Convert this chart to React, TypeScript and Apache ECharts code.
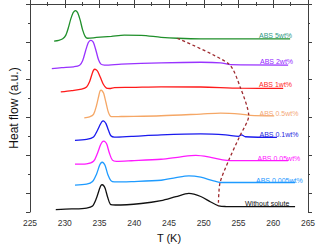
import React, { useEffect, useRef } from "react";
import * as echarts from "echarts";

// Temperature (K) / heat-flow offset (a.u., axis drawn top-down)
const xTicks = { min: 225, max: 265, interval: 5 };

const abs5: [number, number][] = [
  [228.47, 1.96], [229.14, 1.92], [229.71, 1.84], [230.14, 1.66], [230.5, 1.28],
  [230.86, 0.8], [231.2, 0.46], [231.38, 0.38], [231.53, 0.35], [231.7, 0.38],
  [231.88, 0.48], [232.21, 0.84], [232.57, 1.37], [232.93, 1.71], [233.29, 1.81],
  [234.57, 1.77], [236.71, 1.71], [238.57, 1.65], [241.0, 1.66], [243.86, 1.76],
  [246.21, 1.81], [249.57, 1.84], [255.29, 1.84], [262.43, 1.84],
];
const abs2: [number, number][] = [
  [228.14, 3.42], [229.57, 3.37], [231.29, 3.32], [232.14, 3.24], [232.57, 3.0],
  [233.0, 2.47], [233.36, 2.06], [233.58, 1.95], [233.76, 1.92], [233.95, 1.95],
  [234.16, 2.06], [234.5, 2.47], [234.86, 2.95], [235.21, 3.18], [235.71, 3.23],
  [238.14, 3.18], [243.86, 3.11], [249.57, 3.08], [252.43, 3.11], [253.86, 3.21],
  [262.14, 3.23],
];
const abs1: [number, number][] = [
  [229.43, 4.65], [231.0, 4.58], [232.43, 4.5], [233.14, 4.39], [233.57, 4.11],
  [233.93, 3.7], [234.15, 3.5], [234.33, 3.45], [234.52, 3.48], [234.75, 3.57],
  [235.14, 3.89], [235.57, 4.26], [236.0, 4.45], [236.43, 4.47], [237.14, 4.42],
  [239.57, 4.41], [243.86, 4.38], [249.57, 4.39], [255.29, 4.45], [261.43, 4.46],
];
const abs05: [number, number][] = [
  [232.81, 6.02], [233.57, 5.97], [234.14, 5.84], [234.57, 5.37], [234.93, 4.8],
  [235.08, 4.6], [235.24, 4.55], [235.4, 4.6], [235.6, 4.72], [235.93, 5.21],
  [236.29, 5.74], [236.71, 5.96], [238.14, 5.95], [243.86, 5.91], [249.57, 5.82],
  [252.43, 5.77], [255.29, 5.82], [256.71, 5.89], [260.14, 5.92],
];
const abs01: [number, number][] = [
  [231.47, 7.21], [233.14, 7.16], [234.14, 7.03], [234.71, 6.68], [235.14, 6.35],
  [235.35, 6.22], [235.53, 6.18], [235.72, 6.22], [235.95, 6.34], [236.29, 6.68],
  [236.64, 6.97], [237.14, 7.04], [239.57, 7.0], [243.86, 6.92], [249.57, 6.87],
  [253.14, 6.92], [255.0, 7.0], [255.43, 6.92], [256.0, 7.02], [260.53, 7.05],
];
const abs005: [number, number][] = [
  [231.47, 8.47], [233.14, 8.45], [234.14, 8.32], [234.71, 7.89], [235.14, 7.46],
  [235.4, 7.29], [235.61, 7.25], [235.82, 7.29], [236.05, 7.42], [236.43, 7.89],
  [236.86, 8.26], [237.43, 8.32], [239.57, 8.29], [243.86, 8.21], [246.71, 8.08],
  [248.86, 8.01], [251.0, 8.11], [252.71, 8.24], [253.86, 8.28], [262.14, 8.28],
];
const abs0005: [number, number][] = [
  [231.47, 9.58], [233.14, 9.53], [234.0, 9.39], [234.57, 9.0], [235.0, 8.54],
  [235.2, 8.41], [235.39, 8.37], [235.58, 8.41], [235.82, 8.55], [236.21, 9.03],
  [236.64, 9.34], [237.14, 9.41], [239.57, 9.39], [243.86, 9.32], [246.0, 9.18],
  [247.86, 9.09], [249.57, 9.16], [251.29, 9.34], [252.43, 9.44], [263.14, 9.44],
];
const pure: [number, number][] = [
  [228.71, 10.87], [231.0, 10.84], [233.14, 10.79], [234.0, 10.68], [234.57, 10.26],
  [234.98, 9.8], [235.2, 9.6], [235.39, 9.56], [235.58, 9.6], [235.82, 9.76],
  [236.21, 10.26], [236.64, 10.61], [237.29, 10.63], [241.0, 10.55], [243.86, 10.4],
  [246.0, 10.19], [247.86, 10.02], [249.57, 10.18], [251.0, 10.47], [252.14, 10.67],
  [253.14, 10.71], [263.14, 10.72],
];
const meltLine: [number, number][] = [
  [246.21, 1.82], [253.61, 3.17], [255.29, 4.44], [256.47, 5.91],
  [255.14, 7.02], [253.61, 8.25], [252.33, 9.47], [252.1, 10.67],
];

const names = [
  "ABS 5wt%", "ABS 2wt%", "ABS 1wt%", "ABS 0.5wt%",
  "ABS 0.1wt%", "ABS 0.05wt%", "ABS 0.005wt%", "Without solute",
];
const seriesData = [abs5, abs2, abs1, abs05, abs01, abs005, abs0005, pure];
const lineColors = ["#1f8f2a", "#9933ff", "#ff1a1a", "#f5a766", "#1a1aee", "#ff1aff", "#1e9bff", "#111111"];
const labelColors = ["#2f9a86", "#9426ff", "#ff1f1f", "#f4a877", "#1f1fe0", "#ff14ff", "#1e98ff", "#111111"];
const labelPos: [number, number][] = [
  [259, 35], [260, 61.5], [259, 84.5], [259.5, 113.5],
  [259.5, 134.5], [257.5, 158], [256, 180], [245, 203],
];

export default function App() {
  const ref = useRef<HTMLDivElement>(null);
  useEffect(() => {
    if (!ref.current) return;
    const chart = echarts.init(ref.current, undefined, { renderer: "svg" });
    const font = "Liberation Sans, Arial, sans-serif";
    const axisColor = "#404040";
    const xBase = {
      type: "value" as const,
      min: xTicks.min,
      max: xTicks.max,
      interval: xTicks.interval,
      axisLine: { show: true, lineStyle: { color: axisColor, width: 1 } },
      axisTick: { show: true, inside: false, length: 4, lineStyle: { color: axisColor } },
      minorTick: { show: true, splitNumber: 2, length: 2, lineStyle: { color: axisColor } },
      splitLine: { show: false },
      minorSplitLine: { show: false },
    };
    const yBase = {
      type: "value" as const,
      inverse: true,
      min: 0,
      max: 11,
      interval: 2,
      axisLine: { show: true, lineStyle: { color: axisColor, width: 1 } },
      axisTick: { show: true, inside: false, length: 4, lineStyle: { color: axisColor } },
      minorTick: { show: true, splitNumber: 2, length: 2, lineStyle: { color: axisColor } },
      axisLabel: { show: false },
      splitLine: { show: false },
      minorSplitLine: { show: false },
    };
    const series: any[] = seriesData.map((d, i) => ({
      type: "line",
      name: names[i],
      data: d,
      showSymbol: false,
      symbol: "none",
      smooth: 0.3,
      lineStyle: { color: lineColors[i], width: 1.3 },
      z: 2,
    }));
    series.push({
      type: "line",
      name: "melt",
      data: meltLine,
      showSymbol: false,
      symbol: "none",
      smooth: 0.25,
      lineStyle: { color: "#9e2a2f", width: 1.3, type: [3, 2.5] },
      z: 3,
    });
    chart.setOption({
      animation: false,
      grid: { left: 28, right: 12, top: 4, bottom: 35, containLabel: false },
      xAxis: [
        {
          ...xBase,
          position: "bottom",
          name: "T (K)",
          nameLocation: "middle",
          nameGap: 20,
          nameTextStyle: { fontSize: 11, color: "#111", fontFamily: font },
          axisLabel: { show: true, fontSize: 8.5, color: "#333", margin: 6, fontFamily: font },
        },
        { ...xBase, position: "top", axisLabel: { show: false } },
      ],
      yAxis: [
        {
          ...yBase,
          position: "left",
          name: "Heat flow (a.u.)",
          nameLocation: "middle",
          nameGap: 10,
          nameTextStyle: { fontSize: 12, color: "#111", fontFamily: font },
        },
        { ...yBase, position: "right" },
      ],
      series,
      graphic: names.map((n, i) => ({
        type: "text",
        x: labelPos[i][0],
        y: labelPos[i][1],
        z: 10,
        style: {
          text: n,
          fill: labelColors[i],
          fontSize: 7,
          fontFamily: font,
          align: "left",
          verticalAlign: "middle",
        },
      })),
    });
    return () => chart.dispose();
  }, []);
  return (
    <div
      ref={ref}
      style={{ position: "fixed", left: 0, top: 0, width: 320, height: 248, background: "#fff" }}
    />
  );
}
